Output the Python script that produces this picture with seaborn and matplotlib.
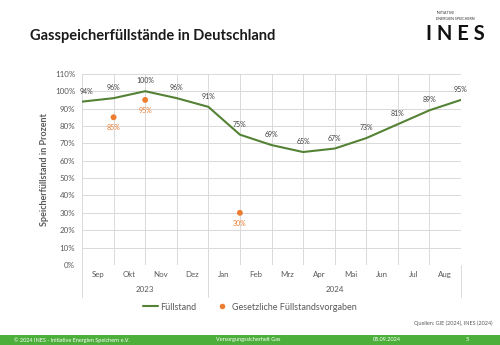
import matplotlib
matplotlib.use("Agg")
import matplotlib.pyplot as plt
import seaborn as sns
import pandas as pd
from matplotlib.patches import Rectangle
from matplotlib.lines import Line2D

# ---- data ----
months = ["Sep", "Okt", "Nov", "Dez", "Jan", "Feb", "Mrz", "Apr", "Mai", "Jun", "Jul", "Aug"]
years = ["2023", "2024"]
year_spans = [(0, 4), (4, 12)]
fill_pos = list(range(13))
fill_levels = [94, 96, 100, 96, 91, 75, 69, 65, 67, 73, 81, 89, 95]
target_pos = [1, 2, 5]
target_levels = [85, 95, 30]

sns.set_theme(style="white")
plt.rcParams["font.family"] = ["Lato", "DejaVu Sans"]

GREEN = "#548235"
ORANGE = "#ED7D31"
GRAY = "#595959"
GRID = "#D9D9D9"

fig = plt.figure(figsize=(5, 3.45), dpi=100)
fig.patch.set_facecolor("white")
ax = fig.add_axes([0.164, 0.232, 0.758, 0.554])

df_line = pd.DataFrame({"x": fill_pos, "y": fill_levels})
df_pts = pd.DataFrame({"x": target_pos, "y": target_levels})

sns.lineplot(data=df_line, x="x", y="y", ax=ax, color=GREEN, linewidth=1.5, zorder=3)
sns.scatterplot(data=df_pts, x="x", y="y", ax=ax, color=ORANGE, s=18, edgecolor="none", zorder=4)

for i, (x, y) in enumerate(zip(fill_pos, fill_levels)):
    dx = 3 if i == 0 else 0
    ax.annotate(f"{y}%", (x, y), xytext=(dx, 5), textcoords="offset points",
                ha="center", va="bottom", fontsize=5, color="#404040")
for x, y in zip(target_pos, target_levels):
    ax.annotate(f"{y}%", (x, y), xytext=(0, -5), textcoords="offset points",
                ha="center", va="top", fontsize=5, color=ORANGE)

ax.set_xlim(0, 12)
ax.set_ylim(0, 110)
ax.set_yticks(range(0, 111, 10))
ax.set_yticklabels([f"{v}%" for v in range(0, 111, 10)], fontsize=5.7, color=GRAY)
ax.set_xticks([i + 0.5 for i in range(12)])
ax.set_xticklabels(months, fontsize=5.7, color=GRAY)
ax.set_xticks(range(13), minor=True)
ax.tick_params(axis="both", which="both", length=0)
ax.tick_params(axis="y", pad=5)
ax.tick_params(axis="x", pad=4)
ax.grid(True, axis="y", color=GRID, linewidth=0.7)
ax.grid(True, axis="x", which="minor", color=GRID, linewidth=0.7)
ax.grid(False, axis="x", which="major")
for s in ax.spines.values():
    s.set_visible(False)
ax.set_xlabel("")
ax.set_ylabel("Speicherfüllstand in Prozent", fontsize=6.5, color=GRAY, fontweight="bold", labelpad=4)

# year labels and separators
for (a, b), yr in zip(year_spans, years):
    ax.text((a + b) / 2, -0.13, yr, transform=ax.get_xaxis_transform(),
            ha="center", va="center", fontsize=5.7, color=GRAY)
for xs in [0, 4, 12]:
    ax.plot([xs, xs], [0, -0.17], transform=ax.get_xaxis_transform(), color=GRID,
            linewidth=0.7, clip_on=False)

# legend
handles = [Line2D([0], [0], color=GREEN, linewidth=1.5),
           Line2D([0], [0], marker="o", color="none", markerfacecolor=ORANGE,
                  markeredgecolor="none", markersize=4)]
fig.legend(handles, ["Füllstand", "Gesetzliche Füllstandsvorgaben"], loc="center",
           bbox_to_anchor=(0.5, 0.11), ncol=2, frameon=False, fontsize=6.5,
           labelcolor=GRAY, handlelength=1.6, handletextpad=0.3, columnspacing=2.0)

# title
fig.text(0.06, 0.895, "Gasspeicherfüllstände in Deutschland", fontsize=10.5,
         fontweight="bold", color="#1a1a1a", ha="left", va="center")

# logo
fig.text(0.873, 0.962, "INITIATIVE", fontsize=2.6, color="#333333", ha="left", va="center")
fig.text(0.873, 0.945, "ENERGIEN SPEICHERN", fontsize=2.6, color="#333333", ha="left", va="center")
fig.text(0.853, 0.902, "I N E S", fontsize=14.5, fontweight="bold", color="#111111",
         ha="left", va="center")

# sources
fig.text(0.985, 0.063, "Quellen: GIE (2024), INES (2024)", fontsize=4.0, color=GRAY,
         ha="right", va="center")

# footer bar
fig.patches.append(Rectangle((0, 0), 1, 0.03, transform=fig.transFigure,
                             facecolor="#4CAF3A", edgecolor="none"))
fig.text(0.028, 0.015, "© 2024 INES - Initiative Energien Speichern e.V.", fontsize=4.0,
         color="white", ha="left", va="center")
fig.text(0.432, 0.015, "Versorgungssicherheit Gas", fontsize=4.0, color="white",
         ha="left", va="center")
fig.text(0.745, 0.015, "05.09.2024", fontsize=4.0, color="white", ha="left", va="center")
fig.text(0.935, 0.015, "5", fontsize=4.0, color="white", ha="center", va="center")

fig.savefig("out.png", dpi=100)
